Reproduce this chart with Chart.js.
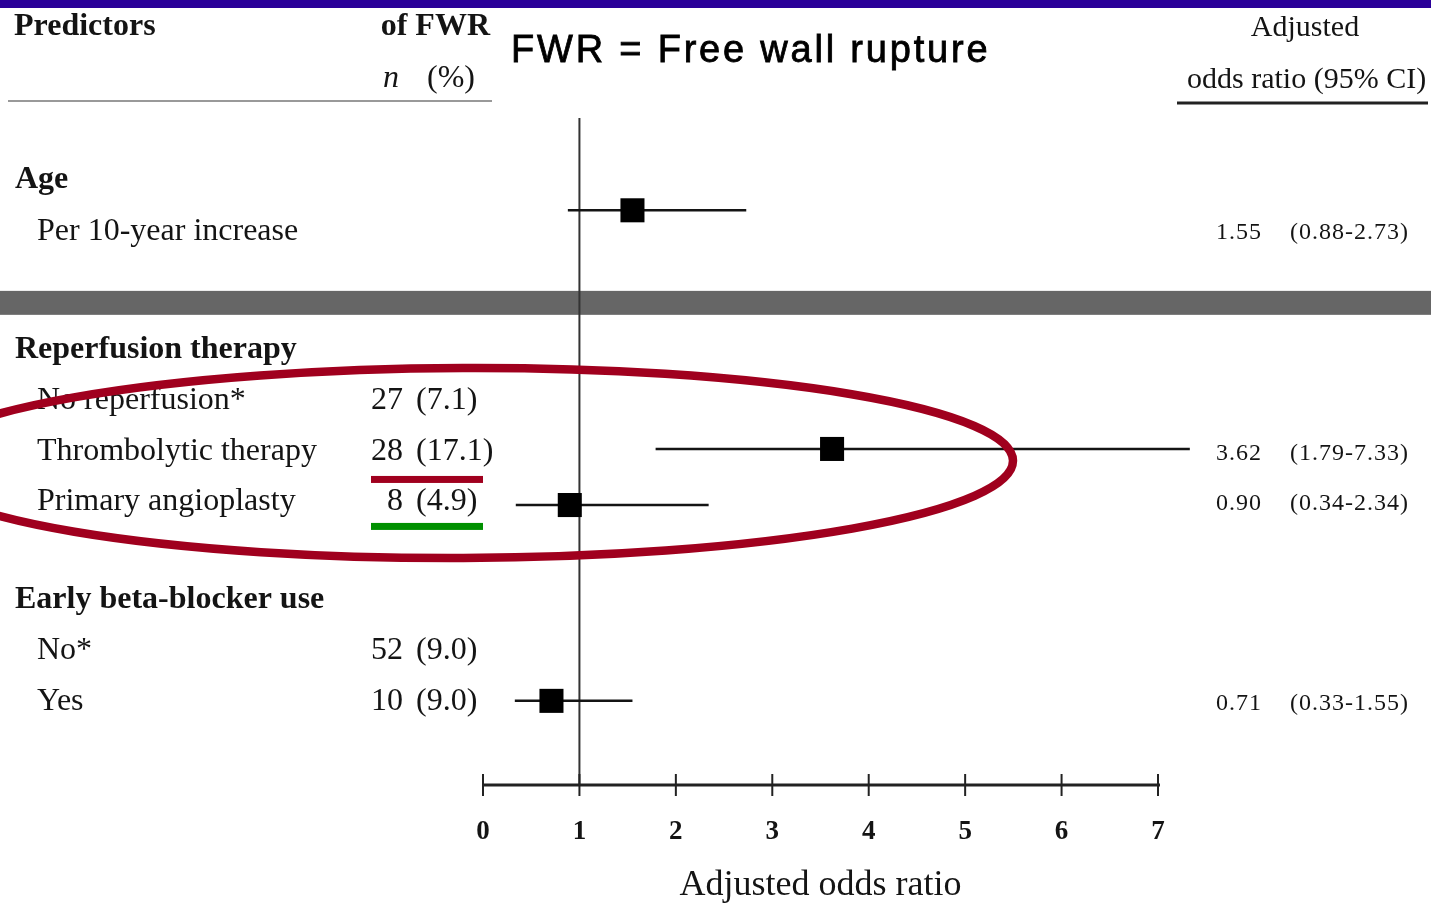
<!doctype html>
<html lang="en">
<head>
  <meta charset="utf-8">
  <title>FWR predictors forest plot</title>
  <style>
    * { margin: 0; padding: 0; }
    body { background: #fff; overflow: hidden; }
    #chart { display: block; }
  </style>
</head>
<body>
  <canvas id="chart" width="1431" height="905"></canvas>

  <script src="https://cdn.jsdelivr.net/npm/chart.js"></script>
  <script>
    // table rows (top to bottom)
    const rowLabels = ['Age', 'Per 10-year increase', 'Reperfusion therapy', 'No reperfusion*',
      'Thrombolytic therapy', 'Primary angioplasty', 'Early beta-blocker use', 'No*', 'Yes'];
    const isGroup = [true, false, true, false, false, false, true, false, false];
    const nFWR = [null, null, null, 27, 28, 8, null, 52, 10];
    const pctFWR = ['', '', '', '7.1', '17.1', '4.9', '', '9.0', '9.0'];
    const oddsRatio = [null, 1.55, null, null, 3.62, 0.90, null, null, 0.71];
    const ciLow = [null, 0.88, null, null, 1.79, 0.34, null, null, 0.33];
    const ciHigh = [null, 2.73, null, null, 7.33, 2.34, null, null, 1.55];
    const xTicks = [0, 1, 2, 3, 4, 5, 6, 7];

    // layout (row units on the hidden y scale)
    const rowPos = [1.16, 2.16, 4.49, 5.49, 6.49, 7.47, 9.39, 10.39, 11.39];
    const markShift = [0, -0.35, 0, 0, 0, 0.12, 0, 0, 0.04];
    const yMax = 13.08;
    const textDy = 3;
    const serif = '"Liberation Serif", "Times New Roman", serif';
    const ink = '#141414';

    const ciSets = [];
    oddsRatio.forEach((v, i) => {
      if (v === null) return;
      const y = rowPos[i] + markShift[i];
      ciSets.push({
        type: 'line',
        data: [{ x: ciLow[i], y: y }, { x: ciHigh[i], y: y }],
        showLine: true,
        borderColor: ink,
        borderWidth: 2.5,
        pointRadius: 0,
        clip: false,
        order: 1
      });
    });

    const markers = {
      data: oddsRatio.map((v, i) => v === null ? null : { x: v, y: rowPos[i] + markShift[i] }).filter(p => p),
      pointStyle: 'rect',
      pointRadius: 17,
      backgroundColor: '#000',
      borderColor: '#000',
      borderWidth: 0,
      clip: false,
      order: 0
    };

    const tablePlugin = {
      id: 'table',
      beforeDraw(chart) {
        const ctx = chart.ctx;
        const xs = chart.scales.x, ys = chart.scales.y;
        const area = chart.chartArea;
        ctx.save();
        ctx.fillStyle = '#fff';
        ctx.fillRect(0, 0, chart.width, chart.height);
        // top bar
        ctx.fillStyle = '#2a0099';
        ctx.fillRect(0, 0, chart.width, 8);
        // grey band between Age and reperfusion blocks
        ctx.fillStyle = '#666666';
        const bTop = ys.getPixelForValue(3.39), bBot = ys.getPixelForValue(3.86);
        ctx.fillRect(0, bTop, chart.width, bBot - bTop);
        // header rules
        ctx.strokeStyle = '#999';
        ctx.lineWidth = 2;
        ctx.beginPath(); ctx.moveTo(8, 101); ctx.lineTo(492, 101); ctx.stroke();
        ctx.strokeStyle = '#222';
        ctx.lineWidth = 3;
        ctx.beginPath(); ctx.moveTo(1177, 103); ctx.lineTo(1428, 103); ctx.stroke();
        // reference line at OR = 1
        const x1 = xs.getPixelForValue(1);
        ctx.strokeStyle = '#333';
        ctx.lineWidth = 2;
        ctx.beginPath(); ctx.moveTo(x1, area.top); ctx.lineTo(x1, area.bottom); ctx.stroke();
        // axis line with crossing ticks
        ctx.strokeStyle = '#222';
        ctx.lineWidth = 3;
        ctx.beginPath();
        ctx.moveTo(xs.getPixelForValue(xTicks[0]), area.bottom);
        ctx.lineTo(xs.getPixelForValue(xTicks[xTicks.length - 1]) + 2, area.bottom);
        ctx.stroke();
        ctx.lineWidth = 2;
        xTicks.forEach(t => {
          const px = xs.getPixelForValue(t);
          ctx.beginPath(); ctx.moveTo(px, area.bottom - 11); ctx.lineTo(px, area.bottom + 11); ctx.stroke();
        });
        ctx.restore();
      },
      afterDraw(chart) {
        const ctx = chart.ctx;
        const ys = chart.scales.y;
        ctx.save();
        ctx.fillStyle = ink;
        ctx.textBaseline = 'alphabetic';

        // column headers
        ctx.font = 'bold 32px ' + serif;
        ctx.textAlign = 'left';
        ctx.fillText('Predictors', 14, 35);
        ctx.textAlign = 'right';
        ctx.fillText('of FWR', 490, 35);
        ctx.textAlign = 'left';
        ctx.font = 'italic 32px ' + serif;
        ctx.fillText('n', 383, 87);
        ctx.font = '32px ' + serif;
        ctx.fillText('(%)', 427, 87);
        ctx.font = '30px ' + serif;
        ctx.textAlign = 'center';
        ctx.fillText('Adjusted', 1305, 36);
        ctx.textAlign = 'left';
        ctx.fillText('odds ratio (95% CI)', 1187, 88);

        // note
        ctx.font = '38px "Liberation Sans", Arial, sans-serif';
        ctx.letterSpacing = '2.8px';
        ctx.fillStyle = '#000';
        ctx.strokeStyle = '#000';
        ctx.lineWidth = 0.8;
        ctx.fillText('FWR = Free wall rupture', 511, 62);
        ctx.strokeText('FWR = Free wall rupture', 511, 62);
        ctx.letterSpacing = '0px';
        ctx.fillStyle = ink;

        // table rows
        ctx.textBaseline = 'middle';
        rowLabels.forEach((lab, i) => {
          const y = ys.getPixelForValue(rowPos[i]) + textDy;
          ctx.textAlign = 'left';
          ctx.font = (isGroup[i] ? 'bold ' : '') + '32px ' + serif;
          ctx.fillText(lab, isGroup[i] ? 15 : 37, y);
          if (nFWR[i] !== null) {
            ctx.font = '32px ' + serif;
            ctx.textAlign = 'right';
            ctx.fillText(String(nFWR[i]), 403, y);
            ctx.textAlign = 'left';
            ctx.fillText('(' + pctFWR[i] + ')', 416, y);
          }
          if (oddsRatio[i] !== null) {
            const yv = y + 2;
            ctx.font = '24px ' + serif;
            ctx.letterSpacing = '1px';
            ctx.textAlign = 'left';
            ctx.fillText(oddsRatio[i].toFixed(2), 1216, yv);
            ctx.fillText('(' + ciLow[i].toFixed(2) + '-' + ciHigh[i].toFixed(2) + ')', 1290, yv);
            ctx.letterSpacing = '0px';
          }
        });

        // highlight underlines
        const yThr = ys.getPixelForValue(rowPos[4]);
        const yPa = ys.getPixelForValue(rowPos[5]);
        ctx.fillStyle = '#a0001e';
        ctx.fillRect(371, yThr + 27, 112, 7);
        ctx.fillStyle = '#009000';
        ctx.fillRect(371, yPa + 24, 112, 7);

        // red ellipse around reperfusion rows
        ctx.strokeStyle = '#a0001e';
        ctx.lineWidth = 8.5;
        ctx.beginPath();
        ctx.ellipse(463, 463, 550, 95, -0.004, 0, Math.PI * 2);
        ctx.stroke();
        ctx.restore();
      }
    };

    new Chart(document.getElementById('chart'), {
      type: 'scatter',
      data: { datasets: [markers, ...ciSets] },
      options: {
        responsive: false,
        animation: false,
        events: [],
        layout: { padding: { left: 483, right: 273, top: 118, bottom: 0 } },
        plugins: { legend: { display: false }, tooltip: { enabled: false } },
        scales: {
          x: {
            type: 'linear',
            min: 0,
            max: 7,
            grid: { display: false },
            border: { display: false },
            afterBuildTicks: s => { s.ticks = xTicks.map(v => ({ value: v })); },
            ticks: {
              color: ink,
              padding: 23,
              maxRotation: 0,
              font: { family: serif, size: 27, weight: 'bold' }
            },
            title: {
              display: true,
              text: 'Adjusted odds ratio',
              color: ink,
              padding: { top: 0, bottom: 1 },
              font: { family: serif, size: 36, lineHeight: 1.0 }
            },
            afterFit: s => { s.height = 120; }
          },
          y: {
            type: 'linear',
            reverse: true,
            min: 0,
            max: yMax,
            display: false
          }
        }
      },
      plugins: [tablePlugin]
    });
  </script>
</body>
</html>
